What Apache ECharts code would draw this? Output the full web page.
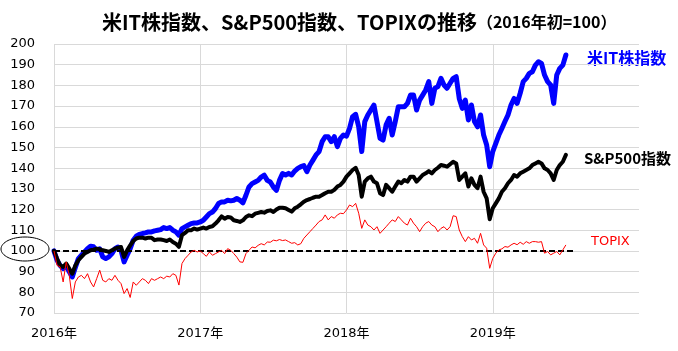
<!DOCTYPE html>
<html>
<head>
<meta charset="utf-8">
<script src="https://cdn.jsdelivr.net/npm/echarts@6/dist/echarts.min.js"></script>
<style>
  html, body { margin: 0; padding: 0; background: #fff; }
  #chart { width: 678px; height: 351px; }
</style>
</head>
<body>
<div id="chart"></div>
<script>
// x: months since start of 2016 (roughly weekly readings)
const months = [
  0,0.25,0.5,0.75,1,1.25,1.5,1.75,
  2,2.25,2.5,2.75,3,3.25,3.5,3.75,
  4,4.25,4.5,4.75,5,5.25,5.5,5.75,
  6,6.25,6.5,6.75,7,7.25,7.5,7.75,
  8,8.25,8.5,8.75,9,9.25,9.5,9.75,
  10,10.25,10.5,10.75,11,11.25,11.5,11.75,
  12,12.25,12.5,12.75,13,13.25,13.5,13.75,
  14,14.25,14.5,14.75,15,15.25,15.5,15.75,
  16,16.25,16.5,16.75,17,17.25,17.5,17.75,
  18,18.25,18.5,18.75,19,19.25,19.5,19.75,
  20,20.25,20.5,20.75,21,21.25,21.5,21.75,
  22,22.25,22.5,22.75,23,23.25,23.5,23.75,
  24,24.25,24.5,24.75,25,25.25,25.5,25.75,
  26,26.25,26.5,26.75,27,27.25,27.5,27.75,
  28,28.25,28.5,28.75,29,29.25,29.5,29.75,
  30,30.25,30.5,30.75,31,31.25,31.5,31.75,
  32,32.25,32.5,32.75,33,33.25,33.5,33.75,
  34,34.25,34.5,34.75,35,35.25,35.5,35.75,
  36,36.25,36.5,36.75,37,37.25,37.5,37.75,
  38,38.25,38.5,38.75,39,39.25,39.5,39.75,
  40,40.25,40.5,40.75,41,41.25,41.5,41.75,
  42];

const usIT = [
  100,95.5,93,91.5,93,89.9,87.4,92,
  96.3,97.9,99.5,101.1,102.3,102,100.3,101,
  97.1,96.3,97.1,98.7,101.1,101.9,100.3,94.7,
  97.9,101.1,105.2,107.1,108,108.4,108.7,109.2,
  109.2,109.7,110,110.3,111.3,110.8,111.3,110,
  109.2,107.6,110.8,111.6,112.4,113.2,113.5,113.5,
  114,114.8,116.4,118,118.8,120.5,122.9,123.7,
  123.7,124.5,124.2,124.5,125.3,124.5,123.2,126.9,
  130.9,132.5,133.3,134.1,135.7,136.6,134.1,133.3,
  130.9,129.3,134.1,137.4,136.7,137.5,136.7,138.6,
  139.9,140.7,141.2,138.3,141.5,143.9,146.4,148,
  152.8,155.2,155.2,152.8,155.2,150.4,154.4,156,
  155.5,159.2,164.9,166,160,148,162.5,165.7,
  168.1,170.5,162.5,154.4,153.6,160.9,164.1,156,
  162.5,169.7,169.7,169.7,171.3,175.3,175.3,168.1,
  172.9,175.3,177.8,181.8,171.3,178.6,179.4,183.4,
  180.2,178.6,181,183.4,184.2,173.7,168.9,172.9,
  163.3,170.5,162.5,160,165.7,156,151.2,140.7,
  148,152,156,159.2,162.5,165.7,170.5,173.7,
  171.3,176.2,181.8,183.4,185.8,186.6,189.8,191.4,
  190.6,185,181.8,180.2,171.3,185,188.2,189.8,
  194.7];

const sp500 = [
  100,96.3,93,92.3,93.9,91.5,89,93,
  95.5,97.1,98.7,99.5,100.3,100.6,101.1,100.8,
  100.3,100,99.5,100.3,101.1,101.6,101.9,97.1,
  100.3,102.7,104.8,106,106.4,106.4,106,106.4,
  106.4,105.2,105.5,105.5,105.2,104.8,105.5,104.3,
  103.5,102,107.6,108.7,110,110,110.8,110.3,
  110.8,111.3,110.8,111.6,111.9,113.2,114.8,116.7,
  115.6,116.4,116.2,114.8,114.5,114,114.8,116.4,
  117.2,116.8,118,118.4,118.8,118.5,119.3,119.6,
  118.8,120,120.9,120.9,120.6,119.8,119,120.6,
  121.4,122.5,123.8,124.6,125.1,125.7,126.2,126.2,
  127,127.9,128.6,128.6,129.5,131.1,131.9,133.5,
  135.9,137.5,139.1,140.2,136.7,126.2,133.5,135.1,
  135.9,133.5,132.7,127.9,127,131.9,130.3,128.6,
  131.1,133.5,132.7,134.3,133.5,135.9,135.9,133.5,
  135.1,136.7,137.5,138.6,137.5,139.1,140.2,141.5,
  141.2,140.7,141.9,143.1,142.3,134.3,135.9,137.5,
  131.1,135.1,131.9,130.3,135.9,128.6,125.4,115.3,
  120.6,123,125.4,128.6,130.3,132.7,134.3,136.7,
  135.9,137.5,138.3,139.1,139.9,141.5,142.3,143.1,
  142.3,139.9,139.1,137.5,134.3,139.1,141.5,143.1,
  146.4];

const topix = [
  100,93,92.3,85,94.7,88.2,77,85,
  87.4,88.2,86.6,89,85,82.6,86.6,90.7,
  85.8,85,86.6,85.8,88.2,85.8,84.2,79.4,
  81.8,77.5,85,83.4,85,86.6,85.8,84.2,
  86.6,85.8,86.6,87.4,86.6,87.8,87.4,89,
  88.2,83.5,93.9,96.3,97.9,99.5,100.3,99.5,
  100,98.7,97.4,99.5,97.9,98.7,99.5,100.3,
  98.7,101.1,100.3,98.7,97,94.7,94.5,98.7,
  100.3,101.9,101.5,102.7,103.5,102.9,104.3,104.2,
  105.2,104.9,105.5,105,105.3,104.5,103.7,104,
  102.9,103.5,106.1,107.7,109.3,110.9,112.5,114.2,
  115,117.4,115,116.6,115.8,117.4,118.2,118,
  119.8,122.2,121.4,123,118.2,110.9,115,112.5,
  111.7,110.1,111.7,108.5,110.1,111.7,113.4,115,
  114.2,116.6,115,113.4,112.5,115.8,113.4,111.7,
  109.3,111.7,113.4,114.2,112.5,111.7,109.3,110.9,
  111.7,110.1,111.7,117,116.6,110.1,106.9,104.5,
  106.9,105.3,106.1,103.7,108.5,102.9,101.3,91.6,
  96.4,98.9,100.5,101,102.1,101.8,102.9,103.7,
  103,104.2,103.2,104.5,103.7,104.5,104.5,104.2,
  104.5,98.9,99.7,98.1,98.9,99.7,98.1,100.5,
  102.9];

// base line at 100
const baseX = [0, 42.7];
const baseY = [100, 100];

const yTicks = { min: 70, max: 200, step: 10 };
const startYear = 2016;

const pairs = (xs, ys) => xs.map((x, i) => [x, ys[i]]);

const chart = echarts.init(document.getElementById('chart'), null, { renderer: 'canvas' });

const option = {
  animation: false,
  backgroundColor: '#fff',
  title: {
    left: 97,
    top: 7,
    text: '{a|米IT株指数、S&P500指数、TOPIXの推移}{b|（2016年初=100）}',
    textStyle: {
      rich: {
        a: { fontFamily: 'Noto Sans CJK JP', fontWeight: 'bold', fontSize: 20, color: '#000' },
        b: { fontFamily: 'Noto Sans CJK JP', fontWeight: 'bold', fontSize: 16, color: '#000' }
      }
    }
  },
  grid: { left: 54, right: 39, top: 44, bottom: 38 },
  xAxis: {
    type: 'value',
    min: 0,
    max: 48,
    interval: 12,
    axisLine: { show: false },
    axisTick: { show: false },
    axisLabel: {
      margin: 14,
      showMaxLabel: false,
      fontFamily: 'DejaVu Sans, Noto Sans CJK JP',
      fontSize: 13,
      color: '#000',
      formatter: v => (startYear + v / 12) + '年'
    },
    splitLine: { show: true, showMaxLine: false, lineStyle: { color: '#d9d9d9', width: 1 } }
  },
  yAxis: {
    type: 'value',
    min: yTicks.min,
    max: yTicks.max,
    interval: yTicks.step,
    axisLine: { show: false },
    axisTick: { show: false },
    axisLabel: {
      margin: 19,
      fontFamily: 'DejaVu Sans',
      fontSize: 13,
      color: '#000'
    },
    splitLine: { lineStyle: { color: '#d9d9d9', width: 1 } }
  },
  series: [
    {
      name: '米IT株指数',
      type: 'line',
      data: pairs(months, usIT),
      symbol: 'none',
      lineStyle: { color: '#0000ff', width: 5, join: 'round', cap: 'round' },
      itemStyle: { color: '#0000ff' }
    },
    {
      name: 'S&P500指数',
      type: 'line',
      data: pairs(months, sp500),
      symbol: 'none',
      lineStyle: { color: '#000', width: 4, join: 'round', cap: 'round' },
      itemStyle: { color: '#000' }
    },
    {
      name: 'base',
      type: 'line',
      data: pairs(baseX, baseY),
      symbol: 'none',
      lineStyle: { color: '#000', width: 2, type: [6, 3] }
    },
    {
      name: 'TOPIX',
      type: 'line',
      data: pairs(months, topix),
      symbol: 'none',
      lineStyle: { color: '#ff0000', width: 1 },
      itemStyle: { color: '#ff0000' }
    }
  ],
  graphic: [
    {
      type: 'ellipse',
      shape: { cx: 25, cy: 249, rx: 24, ry: 12 },
      style: { fill: 'none', stroke: '#000', lineWidth: 1 }
    },
    {
      type: 'text', left: 587, top: 50,
      style: { text: '米IT株指数', fill: '#0000ff', font: 'bold 16px "Noto Sans CJK JP"' }
    },
    {
      type: 'text', left: 584, top: 151,
      style: { text: 'S&P500指数', fill: '#000', font: 'bold 15px "Noto Sans CJK JP"' }
    },
    {
      type: 'text', left: 591, top: 235,
      style: { text: 'TOPIX', fill: '#ff0000', font: '13px "DejaVu Sans"' }
    }
  ]
};

chart.setOption(option);
</script>
</body>
</html>
